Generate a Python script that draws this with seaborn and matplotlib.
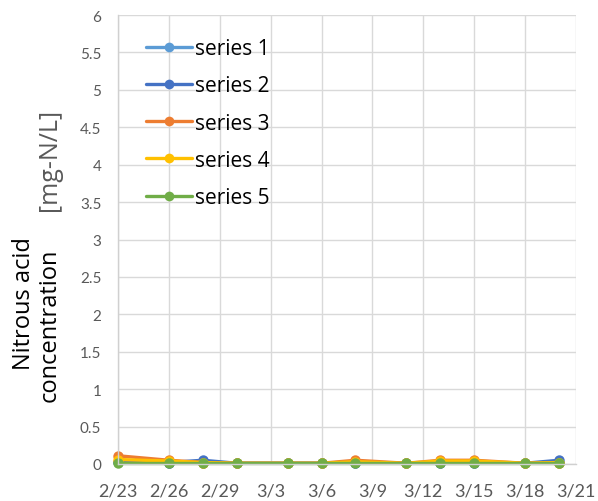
import matplotlib
matplotlib.use("Agg")
import matplotlib.pyplot as plt
import seaborn as sns
import pandas as pd

sns.set_theme(style="white")
plt.rcParams['font.family'] = ['Lato', 'DejaVu Sans']

dates = ["2024-02-23", "2024-02-26", "2024-02-28", "2024-03-01", "2024-03-04", "2024-03-06",
         "2024-03-08", "2024-03-11", "2024-03-13", "2024-03-15", "2024-03-18", "2024-03-20"]
series_names = ["series 1", "series 2", "series 3", "series 4", "series 5"]
s1 = [0.03, 0.02, 0.02, 0.01, 0.01, 0.01, 0.02, 0.01, 0.02, 0.02, 0.01, 0.02]
s2 = [0.03, 0.02, 0.05, 0.01, 0.01, 0.01, 0.02, 0.01, 0.02, 0.02, 0.01, 0.05]
s3 = [0.11, 0.05, 0.02, 0.01, 0.01, 0.01, 0.05, 0.01, 0.05, 0.05, 0.01, 0.02]
s4 = [0.06, 0.04, 0.02, 0.01, 0.01, 0.01, 0.03, 0.01, 0.04, 0.04, 0.01, 0.02]
s5 = [0.01, 0.01, 0.01, 0.01, 0.01, 0.01, 0.01, 0.01, 0.01, 0.01, 0.01, 0.01]
colors = ["#5B9BD5", "#4472C4", "#ED7D31", "#FFC000", "#70AD47"]

xtick_dates = ["2024-02-23", "2024-02-26", "2024-02-29", "2024-03-03", "2024-03-06",
               "2024-03-09", "2024-03-12", "2024-03-15", "2024-03-18", "2024-03-21"]
xtick_labels = ["2/23", "2/26", "2/29", "3/3", "3/6", "3/9", "3/12", "3/15", "3/18", "3/21"]
ytick_vals = [0, 0.5, 1, 1.5, 2, 2.5, 3, 3.5, 4, 4.5, 5, 5.5, 6]
ytick_labels = ["0", "0.5", "1", "1.5", "2", "2.5", "3", "3.5", "4", "4.5", "5", "5.5", "6"]

rows = []
for name, vals in zip(series_names, [s1, s2, s3, s4, s5]):
    for d, v in zip(dates, vals):
        rows.append({"date": pd.Timestamp(d), "value": v, "series": name})
df = pd.DataFrame(rows)

fig = plt.figure(figsize=(5.98, 5.02), dpi=100)
ax = fig.add_axes([118/598, 1 - 465/502, (576-118)/598, (465-16)/502])

sns.lineplot(data=df, x="date", y="value", hue="series", palette=colors,
             marker="o", markersize=7.5, markeredgewidth=0, linewidth=2.4, ax=ax)

ax.set_xlim(pd.Timestamp(xtick_dates[0]), pd.Timestamp(xtick_dates[-1]))
ax.set_ylim(0, 6)
ax.set_xticks([pd.Timestamp(d) for d in xtick_dates])
ax.set_xticklabels(xtick_labels)
ax.set_yticks(ytick_vals)
ax.set_yticklabels(ytick_labels)
ax.tick_params(axis='both', colors="#595959", length=0)
ax.tick_params(axis='x', pad=13, labelsize=13)
ax.tick_params(axis='y', pad=12, labelsize=11)
for lab in ax.get_xticklabels() + ax.get_yticklabels():
    lab.set_color("#595959")
ax.grid(True, color="#d9d9d9", linewidth=1)
for side in ["top", "right"]:
    ax.spines[side].set_visible(False)
for side in ["left", "bottom"]:
    ax.spines[side].set_color("#d0d0d0")
    ax.spines[side].set_linewidth(1)
ax.set_xlabel("")
ax.set_ylabel("")
for l in ax.lines:
    l.set_clip_on(False)

leg = ax.legend(loc="upper left", bbox_to_anchor=(28/458, 1 - 23/449), frameon=False,
                prop={"family": "Open Sans", "size": 15}, handlelength=2.2,
                labelspacing=0.78, handletextpad=0.15, borderaxespad=0, borderpad=0)
for h in leg.legend_handles:
    h.set_markersize(7)
    h.set_linewidth(2.4)
for t in leg.get_texts():
    t.set_color("black")

fig.text(24/598, 1 - 304/502, "Nitrous acid", rotation=90, ha="center", va="center",
         fontsize=17, color="black", family="Open Sans")
fig.text(50/598, 1 - 325/502, "concentration", rotation=90, ha="center", va="center",
         fontsize=17, color="black", family="Open Sans")
fig.text(50/598, 1 - 160/502, "[mg-N/L]", rotation=90, ha="center", va="center",
         fontsize=18, color="#595959", family="Open Sans")

fig.savefig("out.png", dpi=100)
